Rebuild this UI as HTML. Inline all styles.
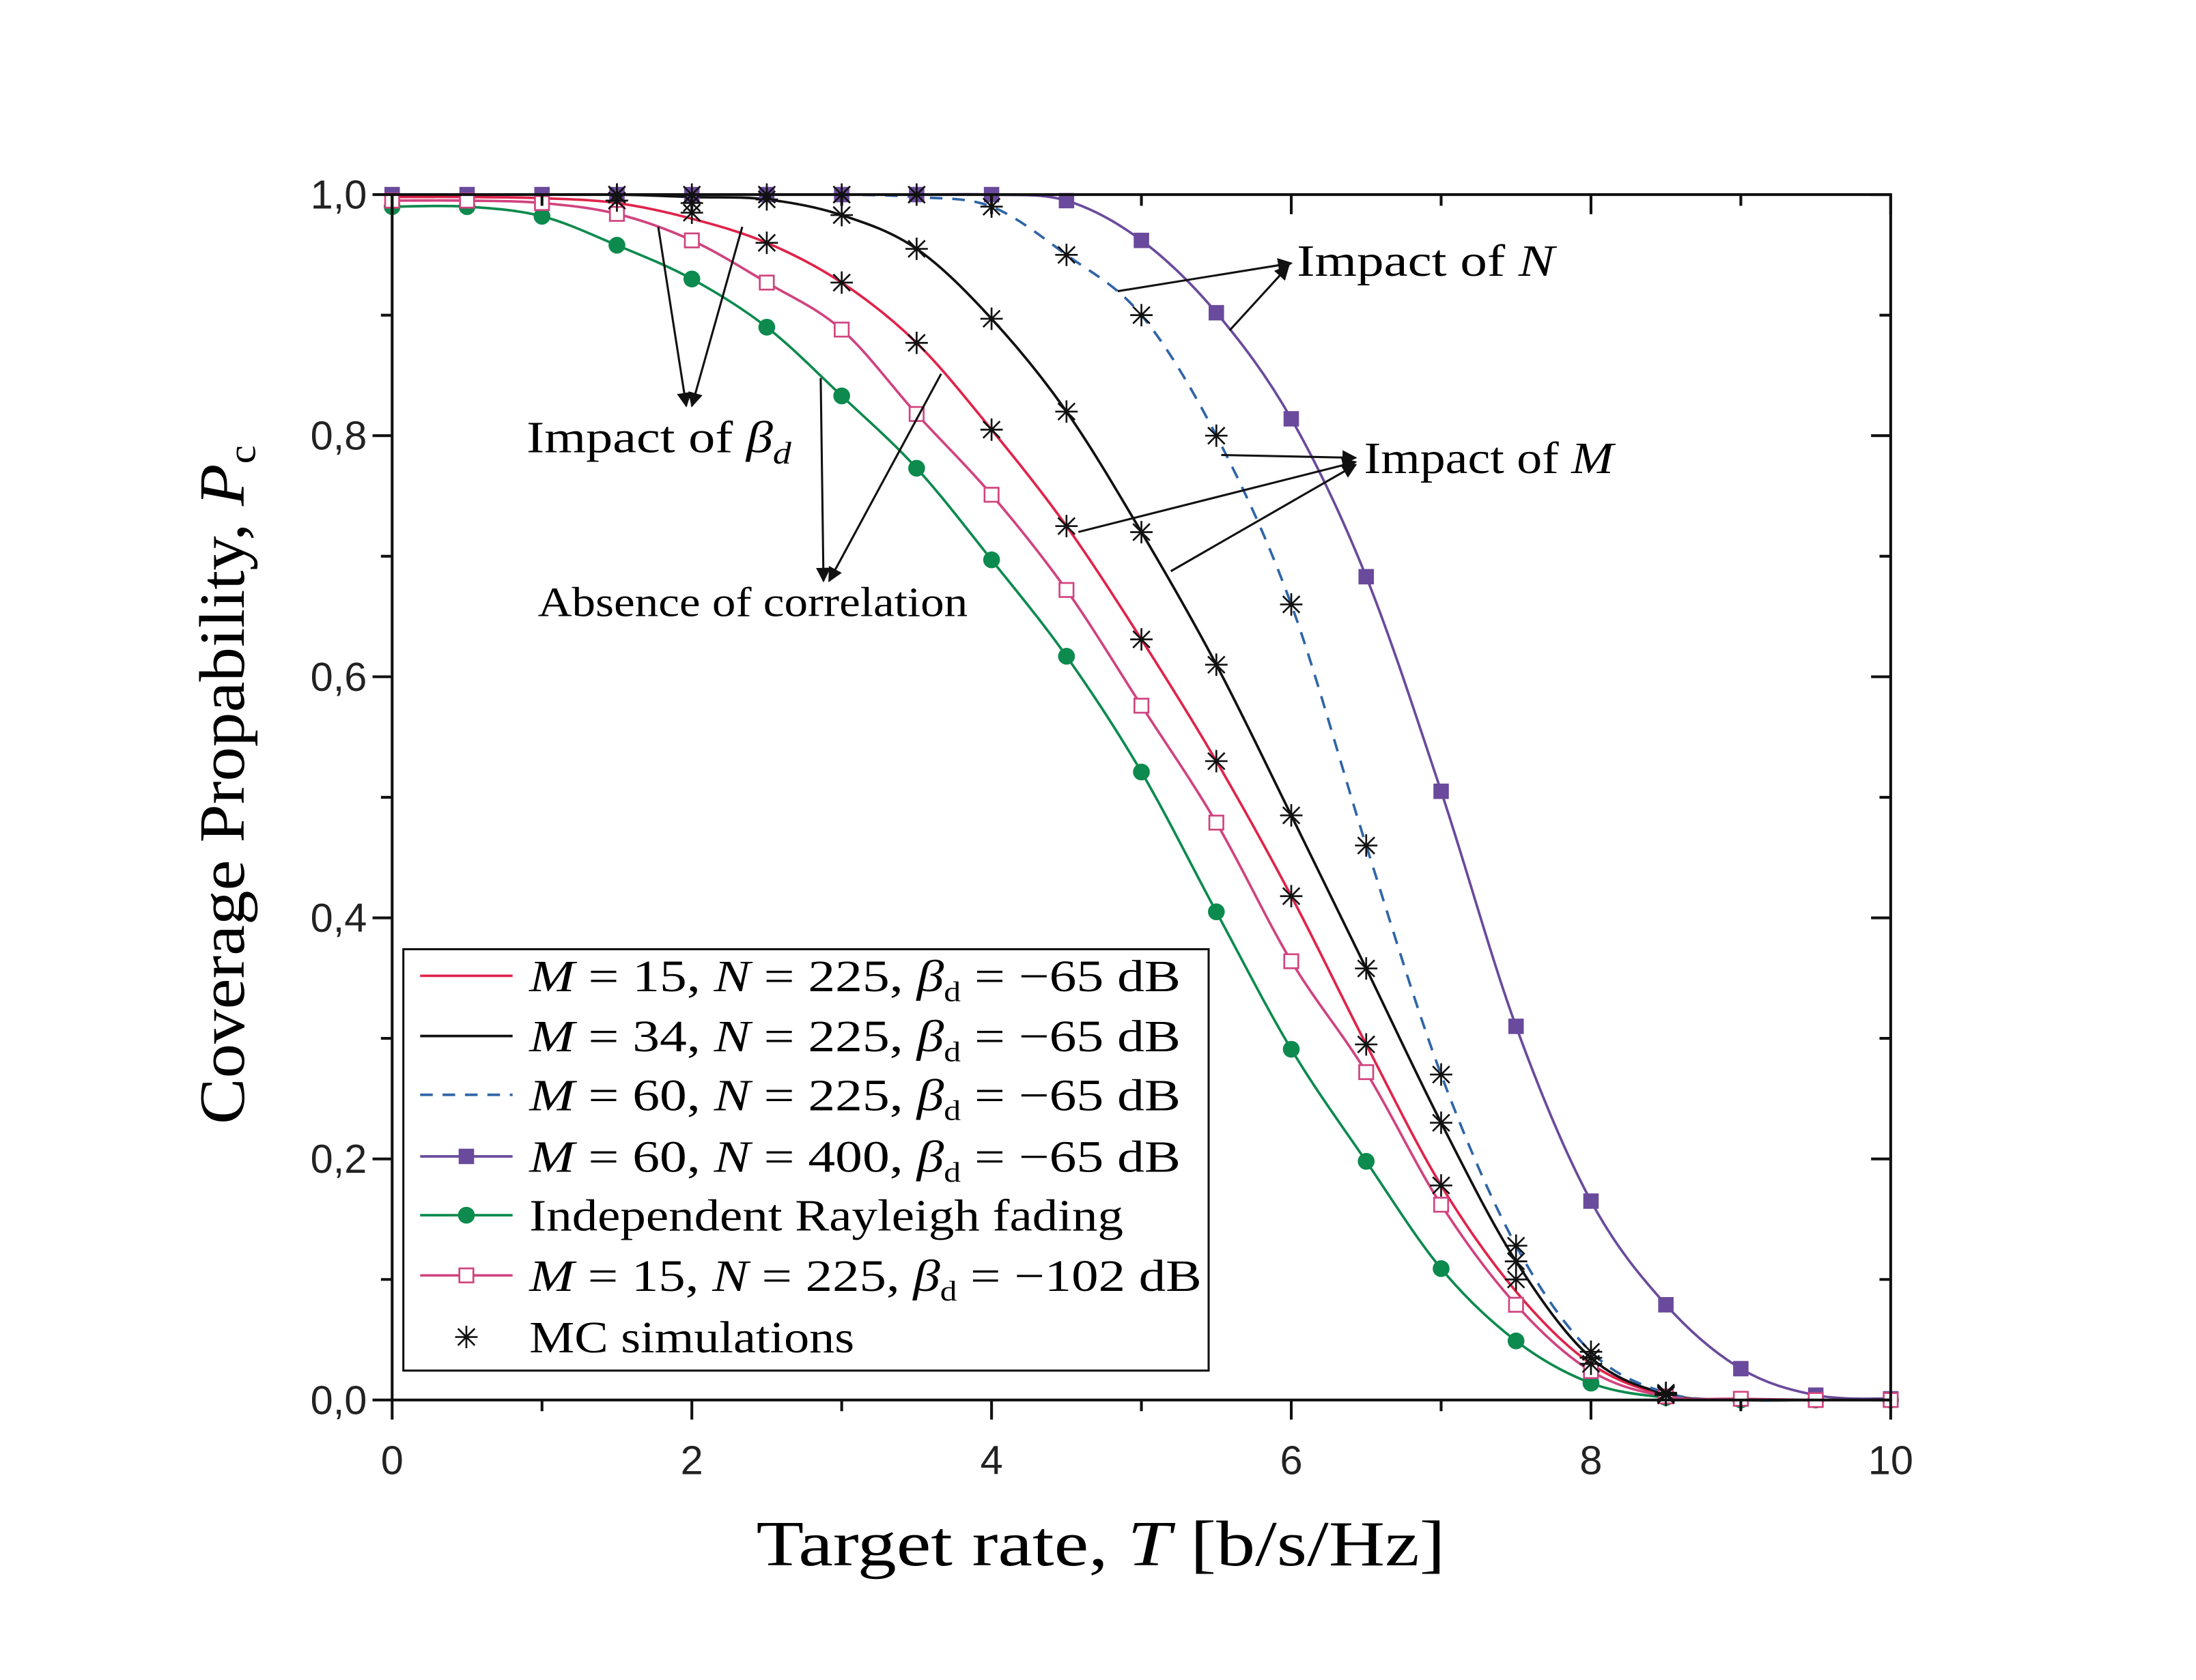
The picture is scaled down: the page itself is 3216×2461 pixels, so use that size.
<!DOCTYPE html>
<html><head><meta charset="utf-8"><style>
html,body{margin:0;padding:0;background:#fff;}
svg{display:block;}
text{font-family:"Liberation Serif",serif;}
.tick{font-family:"Liberation Sans",sans-serif;font-size:29px;fill:#222;}
</style></head><body>
<svg id="chart" width="3216" height="2461" viewBox="0 0 1568 1200" preserveAspectRatio="none" xmlns="http://www.w3.org/2000/svg">
<defs><marker id="ah" viewBox="0 0 10 10" refX="9" refY="5" markerWidth="7" markerHeight="7" orient="auto-start-reverse"><path d="M0,0 L10,5 L0,10 z" fill="#111"/></marker></defs>
<g id="plot"></g>
<g id="axes"></g>
<g id="ann">
 <line x1="470" y1="162" x2="490" y2="290" stroke="#111" stroke-width="1.5" marker-end="url(#ah)"/>
 <line x1="530" y1="162" x2="494" y2="290" stroke="#111" stroke-width="1.5" marker-end="url(#ah)"/>
 <text x="376" y="323" font-size="32" textLength="189" lengthAdjust="spacingAndGlyphs">Impact of <tspan font-style="italic">β</tspan><tspan font-style="italic" font-size="22" dy="8">d</tspan></text>
 <line x1="586" y1="270" x2="588" y2="415" stroke="#111" stroke-width="1.5" marker-end="url(#ah)"/>
 <line x1="672" y1="267" x2="592" y2="415" stroke="#111" stroke-width="1.5" marker-end="url(#ah)"/>
 <text x="384" y="440" font-size="30" textLength="307" lengthAdjust="spacingAndGlyphs">Absence of correlation</text>
 <line x1="798" y1="208" x2="922" y2="188" stroke="#111" stroke-width="1.5" marker-end="url(#ah)"/>
 <line x1="878" y1="236" x2="920" y2="190" stroke="#111" stroke-width="1.5" marker-end="url(#ah)"/>
 <text x="926" y="197" font-size="32" textLength="184" lengthAdjust="spacingAndGlyphs">Impact of <tspan font-style="italic">N</tspan></text>
 <line x1="872" y1="325" x2="968" y2="327" stroke="#111" stroke-width="1.5" marker-end="url(#ah)"/>
 <line x1="770" y1="380" x2="968" y2="330" stroke="#111" stroke-width="1.5" marker-end="url(#ah)"/>
 <line x1="836" y1="408" x2="968" y2="332" stroke="#111" stroke-width="1.5" marker-end="url(#ah)"/>
 <text x="974" y="338" font-size="32" textLength="178" lengthAdjust="spacingAndGlyphs">Impact of <tspan font-style="italic">M</tspan></text>
</g>
<g id="legend"></g>
<text x="540" y="1118" font-size="46" textLength="492" lengthAdjust="spacingAndGlyphs">Target rate, <tspan font-style="italic">T</tspan> [b/s/Hz]</text>
<text transform="translate(174,803) rotate(-90)" font-size="46" textLength="485" lengthAdjust="spacingAndGlyphs">Coverage Propability, <tspan font-style="italic">P</tspan><tspan font-size="28" dy="8">c</tspan></text>
</svg>
<script>
const T = [0,0.5,1,1.5,2,2.5,3,3.5,4,4.5,5,5.5,6,6.5,7,7.5,8,8.5,9,9.5,10];
const redVals = [0.998,0.998,0.997,0.993,0.98,0.96,0.927,0.877,0.805,0.725,0.631,0.53,0.418,0.295,0.178,0.09,0.03,0.004,0,0,0];
const blackVals = [1,1,1,1,0.998,0.996,0.983,0.955,0.897,0.82,0.72,0.61,0.485,0.358,0.23,0.115,0.035,0.005,0,0,0];
const blueVals = [1,1,1,1,1,1,1,0.998,0.99,0.95,0.9,0.8,0.66,0.46,0.27,0.128,0.04,0.006,0,0,0];
const purpleVals = [1,1,1,1,1,1,1,1,1,0.995,0.962,0.902,0.814,0.683,0.505,0.31,0.165,0.079,0.026,0.004,0.001];
const greenVals = [0.99,0.99,0.982,0.958,0.93,0.89,0.833,0.773,0.697,0.617,0.521,0.405,0.291,0.198,0.109,0.049,0.014,0.002,0,0,0];
const pinkVals = [0.995,0.995,0.993,0.984,0.962,0.927,0.888,0.818,0.751,0.672,0.576,0.479,0.364,0.272,0.162,0.079,0.024,0.003,0.001,0,0];
const mcT = [1.5,2,2.5,3,3.5,4,4.5,5,5.5,6,6.5,7,7.5,8,8.5];
const mcRed = [0.995,0.985,0.96,0.927,0.877,0.805,0.725,0.631,0.53,0.418,0.295,0.178,0.1,0.03,0.004];
const mcBlack = [1,0.993,0.996,0.983,0.955,0.897,0.82,0.72,0.61,0.485,0.358,0.23,0.115,0.035,0.005];
const mcBlue = [1,1,1,1,1,0.99,0.95,0.9,0.8,0.66,0.46,0.27,0.128,0.04,0.006];
const xTicks = [0,2,4,6,8,10];
const yTicks = [0,0.2,0.4,0.6,0.8,1.0];
const yTickLabels = ['0,0','0,2','0,4','0,6','0,8','1,0'];

const X0=280,X1=1350,Y0=1000,Y1=139;
const xs=t=>X0+(X1-X0)*t/10;
const ys=v=>Y0-(Y0-Y1)*v;
const NS='http://www.w3.org/2000/svg';
function mk(tag,attrs,parent){const e=document.createElementNS(NS,tag);for(const k in attrs)e.setAttribute(k,attrs[k]);parent.appendChild(e);return e;}
function pathD(tx,vs){const p=tx.map((t,i)=>[xs(t),ys(vs[i])]);let d='M'+p[0][0]+','+p[0][1];
 for(let i=0;i<p.length-1;i++){const a=p[Math.max(i-1,0)],b=p[i],c=p[i+1],e=p[Math.min(i+2,p.length-1)];
 const c1=[b[0]+(c[0]-a[0])/6,b[1]+(c[1]-a[1])/6],c2=[c[0]-(e[0]-b[0])/6,c[1]-(e[1]-b[1])/6];
 d+=` C${c1[0]},${c1[1]} ${c2[0]},${c2[1]} ${c[0]},${c[1]}`;}return d;}
const plot=document.getElementById('plot');
const axes=document.getElementById('axes');
function marker(type,x,y,col,g){
 if(type==='sq'){const r=mk('rect',{x:x-5.5,y:y-5.5,width:11,height:11,fill:col},g);}
 else if(type==='osq'){const r=mk('rect',{x:x-5,y:y-5,width:10,height:10,fill:'#fff',stroke:col,'stroke-width':1.3},g);}
 else if(type==='dot'){const r=mk('circle',{cx:x,cy:y,r:6,fill:col},g);}
 else if(type==='star'){const s=mk('path',{d:`M${x-8},${y}H${x+8}M${x},${y-8}V${y+8}M${x-6},${y-6}L${x+6},${y+6}M${x-6},${y+6}L${x+6},${y-6}`,stroke:'#111','stroke-width':1.3,fill:'none'},g);}
}
const series=[
 {name:'series-m15',vals:redVals,col:'#e0234a',m:null},
 {name:'series-m34',vals:blackVals,col:'#111',m:null},
 {name:'series-m60',vals:blueVals,col:'#2f65a8',m:null,dash:'9,7'},
 {name:'series-m60-n400',vals:purpleVals,col:'#6a4a9c',m:'sq'},
 {name:'series-rayleigh',vals:greenVals,col:'#0d8a4e',m:'dot'},
 {name:'series-m15-102',vals:pinkVals,col:'#d0437f',m:'osq'}
];
series.forEach(s=>{
 const g=mk('g',{},plot);
 
 
 const p=mk('path',{d:pathD(T,s.vals),fill:'none',stroke:s.col,'stroke-width':1.8},g);
 if(s.dash)p.setAttribute('stroke-dasharray',s.dash);
 
 
 if(s.m)T.forEach((t,i)=>marker(s.m,xs(t),ys(s.vals[i]),s.col,g));
});
[mcRed,mcBlack,mcBlue].forEach(arr=>{
 const g=mk('g',{},plot);
 
 
 mcT.forEach((t,i)=>marker('star',xs(t),ys(arr[i]),'#111',g));
});
const fr=mk('rect',{x:X0,y:Y1,width:X1-X0,height:Y0-Y1,fill:'none',stroke:'#111','stroke-width':2},axes);


for(let t=0;t<=10;t+=1){const maj=t%2===0;const L=maj?14:8;
 mk('line',{x1:xs(t),x2:xs(t),y1:Y0,y2:Y0+L,stroke:'#111','stroke-width':2},axes);
 mk('line',{x1:xs(t),x2:xs(t),y1:Y1,y2:Y1+L,stroke:'#111','stroke-width':2},axes);}
for(let k=0;k<=10;k++){const v=k/10;const maj=k%2===0;const L=maj?14:8;
 mk('line',{x1:X0-L,x2:X0,y1:ys(v),y2:ys(v),stroke:'#111','stroke-width':2},axes);
 mk('line',{x1:X1-L,x2:X1,y1:ys(v),y2:ys(v),stroke:'#111','stroke-width':2},axes);}
xTicks.forEach(t=>{const e=mk('text',{x:xs(t),y:Y0+53,'text-anchor':'middle',class:'tick'},axes);e.textContent=t;
 
 });
yTicks.forEach((v,i)=>{const e=mk('text',{x:X0-18,y:ys(v)+10,'text-anchor':'end',class:'tick'},axes);e.textContent=yTickLabels[i];
 
 });
const lg=document.getElementById('legend');
mk('rect',{x:288,y:678,width:575,height:301,fill:'#fff',stroke:'#111','stroke-width':1.5},lg);
const items=[
 {col:'#e0234a',m:null,w:465,html:['M',' = 15, ','N',' = 225, ','β','d',' = −65 dB']},
 {col:'#111',m:null,w:465,html:['M',' = 34, ','N',' = 225, ','β','d',' = −65 dB']},
 {col:'#2f65a8',m:null,w:465,dash:'9,7',html:['M',' = 60, ','N',' = 225, ','β','d',' = −65 dB']},
 {col:'#6a4a9c',m:'sq',w:465,html:['M',' = 60, ','N',' = 400, ','β','d',' = −65 dB']},
 {col:'#0d8a4e',m:'dot',w:424,txt:'Independent Rayleigh fading'},
 {col:'#d0437f',m:'osq',w:480,html:['M',' = 15, ','N',' = 225, ','β','d',' = −102 dB']},
 {col:'#111',m:'star',w:232,none:true,txt:'MC simulations'}
];
const ly=[697,740,782,826,868,911,955];
items.forEach((it,i)=>{
 const g=mk('g',{},lg);
 
 
 const y=ly[i];
 if(!it.none){const l=mk('line',{x1:300,x2:366,y1:y,y2:y,stroke:it.col,'stroke-width':1.8},g);if(it.dash)l.setAttribute('stroke-dasharray',it.dash);}
 if(it.m)marker(it.m,333,y,it.col,g);
 const t=mk('text',{x:378,y:y+11,'font-size':32,textLength:it.w,lengthAdjust:'spacingAndGlyphs'},g);
 if(it.txt)t.textContent=it.txt;
 else{const p=it.html;
  const add=(s,o)=>{const ts=mk('tspan',o||{},t);ts.textContent=s;};
  add(p[0],{'font-style':'italic'});add(p[1]);add(p[2],{'font-style':'italic'});add(p[3]);add(p[4],{'font-style':'italic'});add(p[5],{'font-size':20,dy:7});add(p[6],{dy:-7});}
});
</script>
</body></html>
